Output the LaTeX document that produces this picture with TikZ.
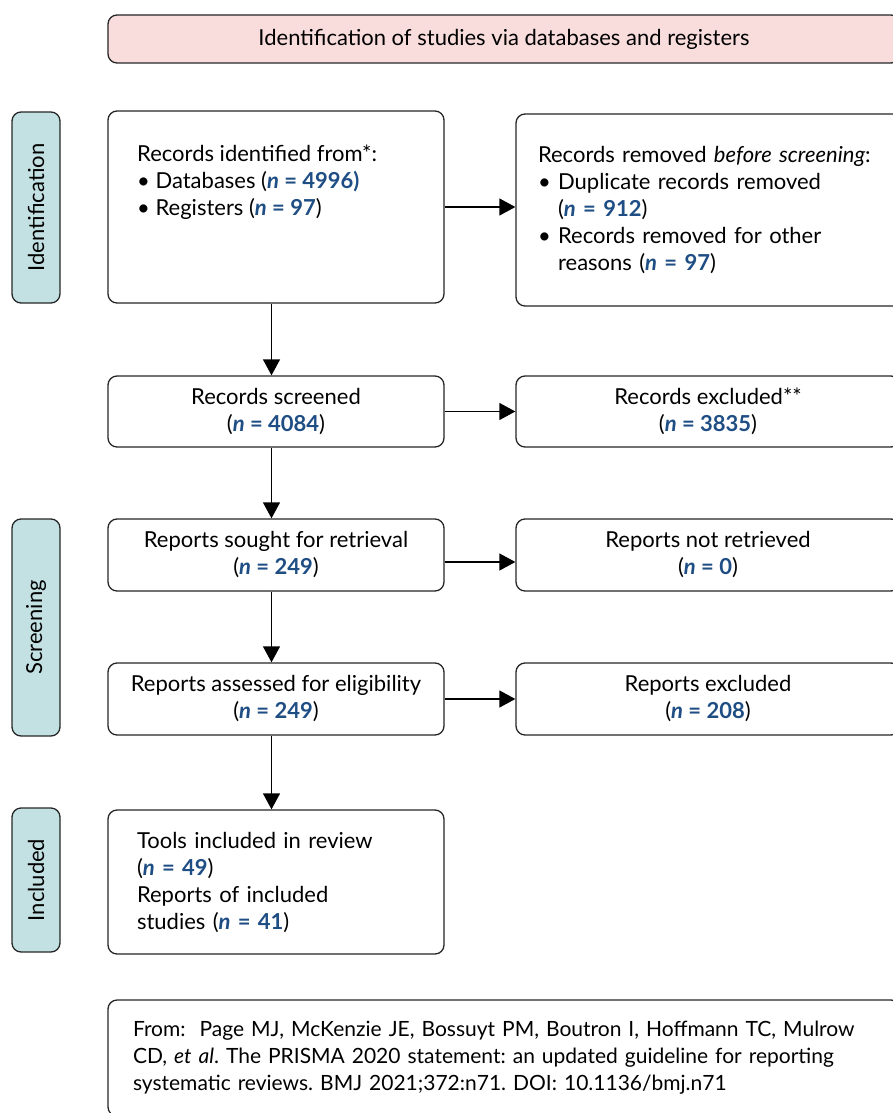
\documentclass[tikz,border=0pt]{standalone}
\usepackage{fontspec}
\setmainfont{Lato}
\usetikzlibrary{arrows.meta}
\frenchspacing

\definecolor{numblue}{HTML}{1F4E85}
\definecolor{bannerpink}{HTML}{F9DCDC}
\definecolor{phaseteal}{HTML}{C3E1E3}
\newcommand{\nval}[1]{\textcolor{numblue}{\textbf{\textit{n} = #1}}}

\begin{document}
\begin{tikzpicture}[x=1pt, y=-1pt,
    box/.style={draw=black!85, line width=1.3pt, rounded corners=9pt, fill=white,
        font=\fontsize{22}{27}\selectfont, align=center},
    phase/.style={box, fill=phaseteal, minimum height=48pt, rotate=90},
    arr/.style={line width=1.3pt, -{Triangle[length=16pt,width=17pt]}}]

    \useasboundingbox (0,0) rectangle (893,1113);

    \node[box, fill=bannerpink, minimum width=792pt, minimum height=48pt] (banner) at (504,39)
        {Identification of studies via databases and registers};

    % phase labels
    \node[phase, minimum width=191pt] (identification) at (36,207.5) {Identification};
    \node[phase, minimum width=217pt] (screening) at (36,627.5) {Screening};
    \node[phase, minimum width=144pt] (included) at (36,880) {Included};

    % identification
    \node[box, minimum width=336pt, minimum height=192pt] (ident) at (276,207) {};
    \node[font=\fontsize{22}{27}\selectfont, align=left, anchor=north west, inner sep=0pt] (identtxt) at (137,145)
        {Records identified from*:\\
         \textbullet\ Databases (\textcolor{numblue}{\textbf{\textit{n} = 4996)}}\\
         \textbullet\ Registers (\nval{97})};
    \node[box, align=left, text width=345pt, inner xsep=22pt, minimum height=192pt] (removed) at (710.5,210)
        {Records removed \textit{before screening}:\\
         \textbullet\ Duplicate records removed\\
         \hphantom{\textbullet\ }(\nval{912})\\
         \textbullet\ Records removed for other\\
         \hphantom{\textbullet\ }reasons (\nval{97})};

    % screening
    \node[box, minimum width=336pt, minimum height=71pt] (screened) at (276,411.5)
        {Records screened\\(\nval{4084})};
    \node[box, minimum width=384pt, minimum height=71pt] (excluded) at (708,411.5)
        {Records excluded**\\(\nval{3835})};
    \node[box, minimum width=336pt, minimum height=72pt] (sought) at (276,555)
        {Reports sought for retrieval\\(\nval{249})};
    \node[box, minimum width=384pt, minimum height=72pt] (notretrieved) at (708,555)
        {Reports not retrieved\\(\nval{0})};
    \node[box, minimum width=336pt, minimum height=72pt] (assessed) at (276,699)
        {Reports assessed for eligibility\\(\nval{249})};
    \node[box, minimum width=384pt, minimum height=72pt] (reportsexcl) at (708,699)
        {Reports excluded\\(\nval{208})};

    % included
    \node[box, align=left, text width=278pt, inner xsep=29pt, minimum height=144pt] (tools) at (276,882)
        {Tools included in review\\
         (\nval{49})\\
         Reports of included\\
         studies (\nval{41})};

    \node[box, font=\fontsize{21}{27}\selectfont, align=left, text width=742pt, inner xsep=25pt, minimum height=116pt] (source) at (504,1058)
        {From:\ \ Page MJ, McKenzie JE, Bossuyt PM, Boutron I, Hoffmann TC, Mulrow\\
         CD, \textit{et al}. The PRISMA 2020 statement: an updated guideline for reporting\\
         systematic reviews. BMJ 2021;372:n71. DOI: 10.1136/bmj.n71};

    \draw[arr] (ident) -- (removed.west |- ident.east);
    \draw[arr] ([xshift=-4.5pt]ident.south) -- ([xshift=-4.5pt]screened.north);
    \draw[arr] (screened) -- (excluded);
    \draw[arr] ([xshift=-4.5pt]screened.south) -- ([xshift=-4.5pt]sought.north);
    \draw[arr] ([yshift=-7pt]sought.east) -- ([yshift=-7pt]notretrieved.west);
    \draw[arr] ([xshift=-4.5pt]sought.south) -- ([xshift=-4.5pt]assessed.north);
    \draw[arr] (assessed) -- (reportsexcl);
    \draw[arr] ([xshift=-4.5pt]assessed.south) -- ([xshift=-4.5pt]tools.north |- tools.north);

\end{tikzpicture}
\end{document}
